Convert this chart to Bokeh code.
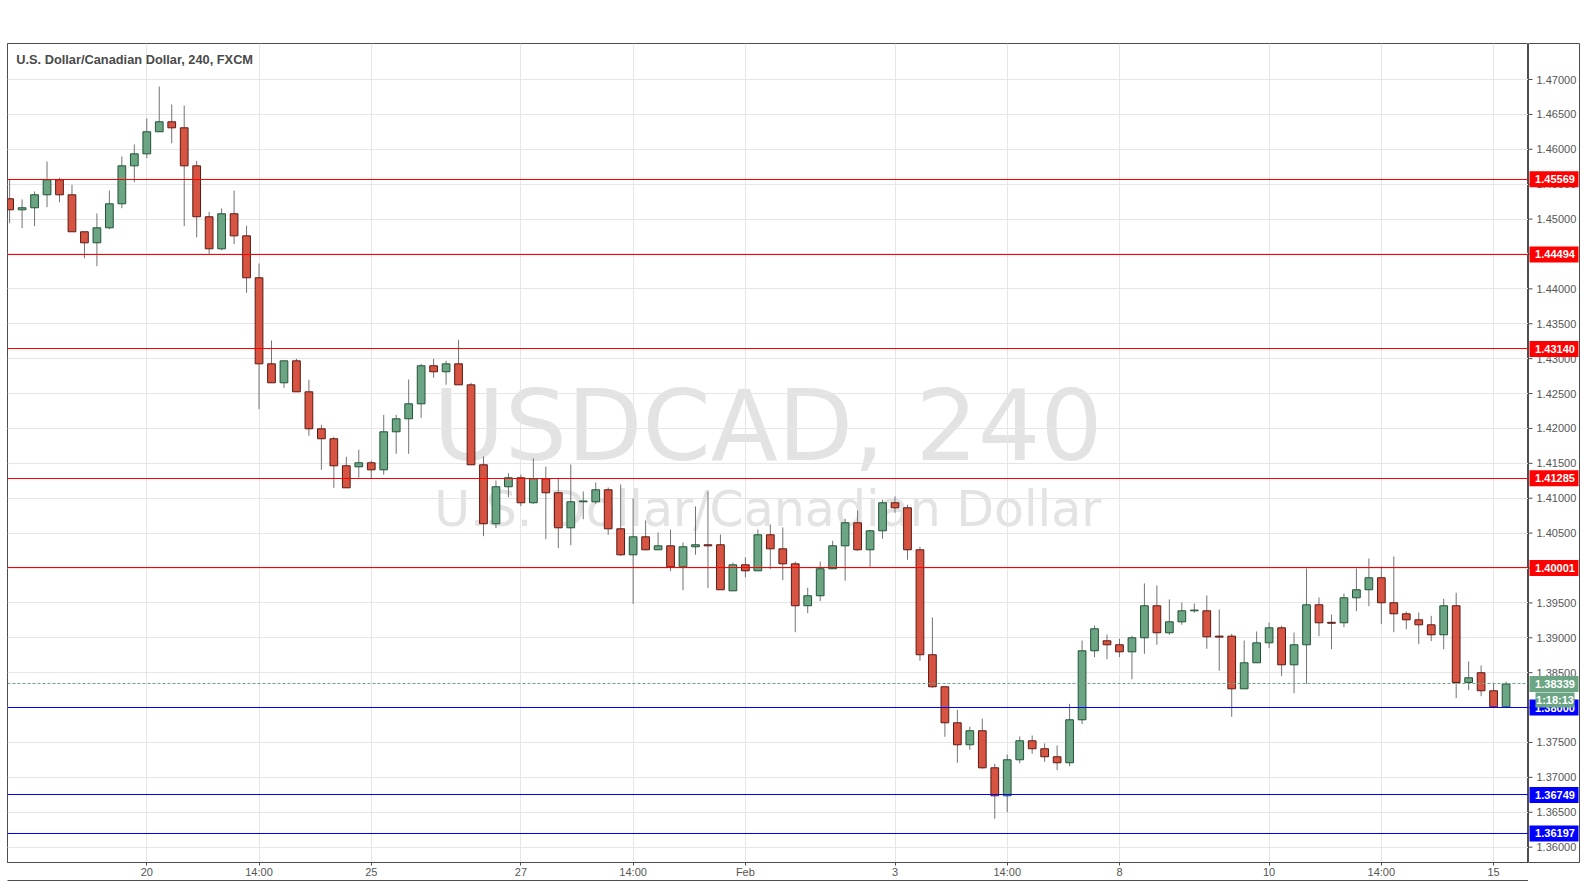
from bokeh.plotting import figure
from bokeh.layouts import row
from bokeh.models import (Range1d, FixedTicker, Label, ColumnDataSource, Grid, LinearAxis)
from bokeh.core.properties import value
from bokeh.embed import file_html
from bokeh.resources import INLINE

# ---------------- data (USDCAD 4H, FXCM) ----------------
first_index = -11
opens = [1.45291, 1.45133, 1.45162, 1.45348, 1.45563, 1.45348, 1.44818, 1.44660, 1.44875, 1.45219, 1.45763,
         1.45935, 1.46251, 1.46394, 1.46308, 1.45763, 1.45033, 1.44574, 1.45076, 1.44760, 1.44159,
         1.42926, 1.42654, 1.42969, 1.42525, 1.41995, 1.41852, 1.41465, 1.41450, 1.41508, 1.41407,
         1.41952, 1.42138, 1.42353, 1.42898, 1.42812, 1.42926, 1.42625, 1.41479, 1.40634, 1.41164,
         1.41293, 1.40935, 1.41278, 1.41078, 1.40576, 1.40949, 1.40949, 1.41121, 1.40562, 1.40189,
         1.40447, 1.40261, 1.40318, 1.40017, 1.40304, 1.40333, 1.40333, 1.39673, 1.40046, 1.39960,
         1.40476, 1.40275, 1.40060, 1.39459, 1.39602, 1.39989, 1.40318, 1.40648, 1.40261, 1.40533,
         1.40935, 1.40863, 1.40261, 1.38757, 1.38298, 1.37782, 1.37467, 1.37668, 1.37137, 1.36736,
         1.37252, 1.37524, 1.37410, 1.37295, 1.37209, 1.37825, 1.38814, 1.38957, 1.38900, 1.38799,
         1.39000, 1.39459, 1.39072, 1.39229, 1.39387, 1.39387, 1.39024, 1.39024, 1.38269, 1.38642,
         1.38928, 1.39143, 1.38613, 1.38900, 1.39473, 1.39222, 1.39215, 1.39573, 1.39688, 1.39860,
         1.39502, 1.39344, 1.39258, 1.39186, 1.39043, 1.39459, 1.38360, 1.38499, 1.38241, 1.38011]
highs = [1.45577, 1.45281, 1.45395, 1.45825, 1.45591, 1.45491, 1.44818, 1.45080, 1.45409, 1.45897, 1.46069,
         1.46441, 1.46900, 1.46642, 1.46627, 1.45835, 1.45104, 1.45152, 1.45409, 1.44904, 1.44363,
         1.43260, 1.42969, 1.42998, 1.42697, 1.42052, 1.41881, 1.41594, 1.41694, 1.41537, 1.42195,
         1.42195, 1.42701, 1.42926, 1.42998, 1.42969, 1.43270, 1.42654, 1.41598, 1.41254, 1.41359,
         1.41340, 1.41570, 1.41455, 1.41293, 1.41483, 1.41096, 1.41225, 1.41154, 1.41197, 1.40996,
         1.40681, 1.40509, 1.40552, 1.40366, 1.40882, 1.41096, 1.40480, 1.40079, 1.40151, 1.40552,
         1.40624, 1.40581, 1.40093, 1.39717, 1.40093, 1.40390, 1.40705, 1.40824, 1.40548, 1.40978,
         1.41025, 1.40906, 1.40304, 1.39291, 1.38298, 1.37969, 1.37725, 1.37840, 1.37195, 1.37328,
         1.37586, 1.37600, 1.37486, 1.37457, 1.38054, 1.38961, 1.39176, 1.39047, 1.38986, 1.39029,
         1.39778, 1.39750, 1.39549, 1.39506, 1.39492, 1.39606, 1.39406, 1.39057, 1.38961, 1.39090,
         1.39219, 1.39172, 1.39076, 1.39993, 1.39578, 1.39334, 1.39635, 1.39993, 1.40136, 1.40022,
         1.40165, 1.39377, 1.39363, 1.39315, 1.39559, 1.39645, 1.38661, 1.38603, 1.38355, 1.38374]
lows = [1.44941, 1.44869, 1.44898, 1.45170, 1.45242, 1.44818, 1.44439, 1.44325, 1.44855, 1.45156, 1.45528,
        1.45872, 1.46251, 1.46087, 1.44898, 1.44740, 1.44502, 1.44554, 1.44640, 1.43944, 1.42276,
        1.42654, 1.42582, 1.42525, 1.41895, 1.41407, 1.41149, 1.41149, 1.41293, 1.41278, 1.41336,
        1.41637, 1.41637, 1.42153, 1.42726, 1.42625, 1.42625, 1.41479, 1.40456, 1.40571, 1.41015,
        1.40886, 1.40920, 1.40413, 1.40284, 1.40327, 1.40699, 1.40920, 1.40476, 1.40175, 1.39487,
        1.40261, 1.40261, 1.39955, 1.39682, 1.40189, 1.39711, 1.39688, 1.39673, 1.39868, 1.39960,
        1.39983, 1.39826, 1.39080, 1.39353, 1.39525, 1.39989, 1.39817, 1.40247, 1.40017, 1.40419,
        1.40791, 1.40118, 1.38671, 1.38284, 1.37582, 1.37209, 1.37395, 1.37123, 1.36407, 1.36501,
        1.37203, 1.37338, 1.37223, 1.37103, 1.37160, 1.37762, 1.38722, 1.38694, 1.38722, 1.38407,
        1.38771, 1.38900, 1.39043, 1.39186, 1.39358, 1.38842, 1.38527, 1.37868, 1.38269, 1.38642,
        1.38851, 1.38450, 1.38206, 1.38341, 1.39023, 1.38837, 1.39152, 1.39381, 1.39453, 1.39200,
        1.39080, 1.39123, 1.38909, 1.38952, 1.38837, 1.38135, 1.38249, 1.38163, 1.38011, 1.37997]
closes = [1.45133, 1.45162, 1.45348, 1.45563, 1.45348, 1.44818, 1.44660, 1.44875, 1.45219, 1.45763, 1.45935,
          1.46251, 1.46394, 1.46308, 1.45763, 1.45033, 1.44574, 1.45076, 1.44760, 1.44159, 1.42926,
          1.42654, 1.42969, 1.42525, 1.41995, 1.41852, 1.41465, 1.41149, 1.41508, 1.41407, 1.41952,
          1.42138, 1.42353, 1.42898, 1.42812, 1.42926, 1.42625, 1.41479, 1.40634, 1.41164, 1.41293,
          1.40935, 1.41278, 1.41078, 1.40576, 1.40949, 1.40960, 1.41121, 1.40562, 1.40189, 1.40447,
          1.40261, 1.40318, 1.40017, 1.40304, 1.40333, 1.40318, 1.39688, 1.40046, 1.39960, 1.40476,
          1.40275, 1.40060, 1.39459, 1.39602, 1.39989, 1.40318, 1.40648, 1.40261, 1.40533, 1.40935,
          1.40863, 1.40261, 1.38757, 1.38298, 1.37782, 1.37467, 1.37668, 1.37137, 1.36736, 1.37252,
          1.37524, 1.37410, 1.37295, 1.37209, 1.37825, 1.38814, 1.39129, 1.38900, 1.38799, 1.39000,
          1.39459, 1.39072, 1.39229, 1.39387, 1.39397, 1.39014, 1.39010, 1.38269, 1.38642, 1.38928,
          1.39143, 1.38613, 1.38900, 1.39473, 1.39215, 1.39208, 1.39573, 1.39688, 1.39860, 1.39502,
          1.39344, 1.39258, 1.39186, 1.39043, 1.39459, 1.38360, 1.38427, 1.38241, 1.38011, 1.38339]

time_tick_index = [0, 9, 18, 30, 39, 48, 60, 69, 78, 90, 99, 108]
time_tick_labels = ["20", "14:00", "25", "27", "14:00", "Feb", "3", "14:00", "8", "10", "14:00", "15"]
price_ticks = [1.360, 1.365, 1.370, 1.375, 1.380, 1.385, 1.390, 1.395, 1.400, 1.405, 1.410, 1.415,
               1.420, 1.425, 1.430, 1.435, 1.440, 1.445, 1.450, 1.455, 1.460, 1.465, 1.470]
resistance_levels = [1.45569, 1.44494, 1.43140, 1.41285, 1.40001]
support_levels = [1.38000, 1.36749, 1.36197]
last_price = 1.38339
countdown_text = "1:18:13"
countdown_level = 1.38109
title_text = "U.S. Dollar/Canadian Dollar, 240, FXCM"
watermark_big = "USDCAD, 240"
watermark_small = "U.S. Dollar/Canadian Dollar"

# ---------------- styling ----------------
UP_FILL, UP_LINE = "#6ba583", "#225437"
DN_FILL, DN_LINE = "#d75442", "#5b1a13"
WICK = "#737375"
AX = "#4d4d4d"
TXT = "#555555"
GRID = "#e6e6e6"
RED, BLUE = "#ff0000", "#0000ff"

n = len(opens)
xs = [first_index + i for i in range(n)]
up = [c >= o for o, c in zip(opens, closes)]
src = ColumnDataSource(dict(
    x=xs, low=lows, high=highs,
    top=[max(o, c) for o, c in zip(opens, closes)],
    bottom=[min(o, c) for o, c in zip(opens, closes)],
    fill=[UP_FILL if u else DN_FILL for u in up],
    line=[UP_LINE if u else DN_LINE for u in up],
))

# ---------------- main price panel ----------------
X0, X1 = -11.17, 110.80
yr = Range1d(1.35780, 1.47516)
p = figure(width=1528, height=887,
           x_range=Range1d(X0, X1), y_range=yr,
           y_axis_location=None, output_backend="svg", toolbar_location=None,
           min_border_left=7, min_border_top=43, min_border_right=0, min_border_bottom=25,
           background_fill_color="white", border_fill_color="white",
           outline_line_color=AX, outline_line_width=1)

p.xgrid.ticker = FixedTicker(ticks=time_tick_index)
p.xgrid.grid_line_color = GRID
p.add_layout(Grid(dimension=1, ticker=FixedTicker(ticks=price_ticks), grid_line_color=GRID))

p.xaxis.ticker = FixedTicker(ticks=time_tick_index)
p.xaxis.major_label_overrides = {t: l for t, l in zip(time_tick_index, time_tick_labels)}
p.xaxis.major_tick_in = 0
p.xaxis.major_tick_out = 3
p.xaxis.major_tick_line_color = AX
p.xaxis.minor_tick_line_color = None
p.xaxis.axis_line_color = AX
p.xaxis.major_label_standoff = 0
p.xaxis.major_label_text_font = "Liberation Sans"
p.xaxis.major_label_text_font_size = "11px"
p.xaxis.major_label_text_color = TXT

# lower edge of the chart box
edge = LinearAxis(ticker=FixedTicker(ticks=[]), major_tick_in=0, major_tick_out=0,
                  minor_tick_in=0, minor_tick_out=0, major_label_text_font_size="0px",
                  major_label_standoff=0, axis_line_color=AX)
p.add_layout(edge, "below")

# watermark
p.add_layout(Label(x=49.8, y=1.42042, text=watermark_big, text_align="center",
                   text_baseline="alphabetic", text_font="DejaVu Sans", text_font_size="98px",
                   text_color="#e3e3e3", level="image"))
p.add_layout(Label(x=49.8, y=1.40832, text=watermark_small, text_align="center",
                   text_baseline="alphabetic", text_font="DejaVu Sans", text_font_size="49px",
                   text_color="#e3e3e3", level="image"))

# candles
p.segment(x0="x", y0="low", x1="x", y1="high", line_color=WICK, line_width=1, source=src)
p.vbar(x="x", width=0.62, top="top", bottom="bottom", fill_color="fill", line_color="line",
       line_width=1, source=src)

# horizontal levels (glyphs)
p.hspan(y=resistance_levels, line_color=RED, line_width=1)
p.hspan(y=support_levels, line_color=BLUE, line_width=1)
p.hspan(y=[last_price], line_color=UP_FILL, line_width=1, line_dash="3 2")

# title
p.add_layout(Label(x=-10.47, y=1.47287, text=title_text, text_align="left", text_baseline="alphabetic",
                   text_font="Liberation Sans", text_font_style="bold", text_font_size="12.8px",
                   text_color="#4a4a4a"))

# ---------------- price scale panel ----------------
s = figure(width=57, height=887, x_range=Range1d(0, 51), y_range=yr,
           x_axis_location=None, y_axis_location=None, output_backend="svg", toolbar_location=None,
           min_border_left=0, min_border_right=6, min_border_top=43, min_border_bottom=25,
           background_fill_color="white", border_fill_color="white",
           outline_line_color=AX, outline_line_width=1)
s.xgrid.visible = False
s.ygrid.visible = False

s.segment(x0=[0] * len(price_ticks), y0=price_ticks, x1=[4] * len(price_ticks), y1=price_ticks,
          line_color=AX, line_width=1)
s.text(x=[8] * len(price_ticks), y=price_ticks, text=["%.5f" % t for t in price_ticks],
       text_align="left", text_baseline="middle", text_font=value("Liberation Sans"),
       text_font_size="11px", text_color=TXT)

tag_levels = resistance_levels + support_levels + [last_price]
tag_colors = [RED] * len(resistance_levels) + [BLUE] * len(support_levels) + [UP_FILL]
s.rect(x=[25.5] * len(tag_levels), y=tag_levels, width=[49] * len(tag_levels), height=16,
       height_units="screen", fill_color=tag_colors, line_color=None)
s.text(x=[26.5] * len(tag_levels), y=tag_levels, text=["%.5f" % v for v in tag_levels],
       text_align="center", text_baseline="middle", text_font=value("Liberation Sans"),
       text_font_style="bold", text_font_size="11px", text_color="white")

s.rect(x=[26.5], y=[countdown_level], width=[39], height=15, height_units="screen",
       fill_color=UP_FILL, line_color=None)
s.text(x=[26.5], y=[countdown_level], text=[countdown_text], text_align="center",
       text_baseline="middle", text_font=value("Liberation Sans"), text_font_style="bold",
       text_font_size="11px", text_color="white")

layout = row(p, s)
open("out.html", "w").write(file_html(layout, INLINE))
